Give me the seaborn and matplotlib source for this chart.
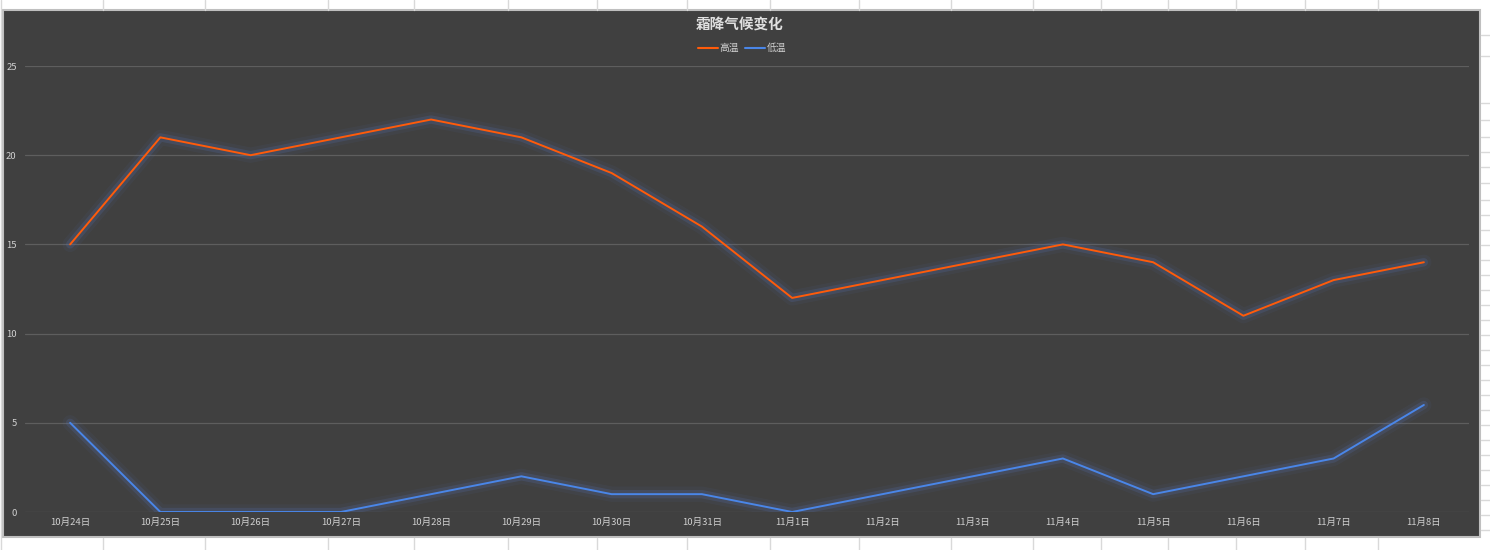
import pandas as pd
import matplotlib.pyplot as plt
import matplotlib.patheffects as pe
from matplotlib.patches import Rectangle
import seaborn as sns

# data
dates = ['10月24日', '10月25日', '10月26日', '10月27日', '10月28日', '10月29日', '10月30日', '10月31日',
         '11月1日', '11月2日', '11月3日', '11月4日', '11月5日', '11月6日', '11月7日', '11月8日']
high = [15, 21, 20, 21, 22, 21, 19, 16, 12, 13, 14, 15, 14, 11, 13, 14]
low = [5, 0, 0, 0, 1, 2, 1, 1, 0, 1, 2, 3, 1, 2, 3, 6]
series = ['高温', '低温']
colors = {'高温': '#FF5B0A', '低温': '#4A86E8'}

df = pd.DataFrame({'day': list(range(len(dates))) * 2,
                   'temp': high + low,
                   'series': ['高温'] * len(high) + ['低温'] * len(low)})

sns.set_theme(style='dark')
plt.rcParams['font.family'] = ['Noto Sans CJK SC', 'DejaVu Sans']

fig = plt.figure(figsize=(14.9, 5.5), dpi=100)
fig.patch.set_facecolor('white')

# spreadsheet cell lines around the chart
for x in [103, 205, 328, 414, 508, 597, 687, 770, 859, 951, 1033, 1101, 1168, 1236, 1305, 1378]:
    fig.add_artist(plt.Line2D([x / 1490] * 2, [1 - 10 / 550, 1.0], color='#d9d9d9', lw=1))
    fig.add_artist(plt.Line2D([x / 1490] * 2, [0.0, 1 - 538 / 550], color='#d9d9d9', lw=1))
for y in [35, 56, 103, 120, 137, 152, 167, 183, 200, 215, 230, 245, 260, 275, 290, 305, 320,
          335, 350, 365, 380, 395, 410, 425, 440, 455, 470, 485, 500, 515, 530]:
    fig.add_artist(plt.Line2D([1481 / 1490, 1.0], [1 - y / 550] * 2, color='#d9d9d9', lw=1))
fig.add_artist(plt.Line2D([1 / 1490] * 2, [0, 1], color='#d9d9d9', lw=1))

# chart area
fig.add_artist(Rectangle((3 / 1490, 1 - 537 / 550), 1477 / 1490, 527 / 550,
                         transform=fig.transFigure, facecolor='#404040',
                         edgecolor='#bfbfbf', lw=1.5, zorder=0))

ax = fig.add_axes([25 / 1490, 1 - 512 / 550, 1444 / 1490, 446 / 550])
ax.patch.set_alpha(0)

sns.lineplot(data=df, x='day', y='temp', hue='series', hue_order=series,
             palette=colors, linewidth=1.4, ax=ax, legend=False)

# soft glow like the excel effect
glow = [pe.Stroke(linewidth=11, foreground='#5470b0', alpha=0.08),
        pe.Stroke(linewidth=6, foreground='#5470b0', alpha=0.22),
        pe.Normal()]
for line in ax.lines:
    line.set_path_effects(glow)

ax.set_xlim(-0.5, len(dates) - 0.5)
ax.set_ylim(0, 25)
ax.set_yticks([0, 5, 10, 15, 20, 25])
ax.set_xticks(range(len(dates)))
ax.set_xticklabels(dates)
ax.tick_params(axis='both', colors='#d0d0d0', labelsize=6.8, length=0)
ax.tick_params(axis='y', pad=6)
ax.tick_params(axis='x', pad=4.5)
ax.grid(axis='y', color='#5e5e5e', lw=0.9)
ax.grid(axis='x', visible=False)
ax.set_axisbelow(True)
for s in ax.spines.values():
    s.set_visible(False)
ax.set_xlabel('')
ax.set_ylabel('')

fig.text(740 / 1490, 1 - 24 / 550, '霜降气候变化', ha='center', va='center',
         color='#e0e0e0', fontsize=10.5, fontweight='bold')

handles = [plt.Line2D([], [], color=colors[s], lw=1.5) for s in series]
fig.legend(handles, series, loc='center', bbox_to_anchor=(742 / 1490, 1 - 48 / 550),
           ncol=2, frameon=False, fontsize=7, labelcolor='#d0d0d0',
           handlelength=2.0, handletextpad=0.15, columnspacing=0.7)

fig.savefig('out.png', dpi=100, facecolor=fig.get_facecolor())
